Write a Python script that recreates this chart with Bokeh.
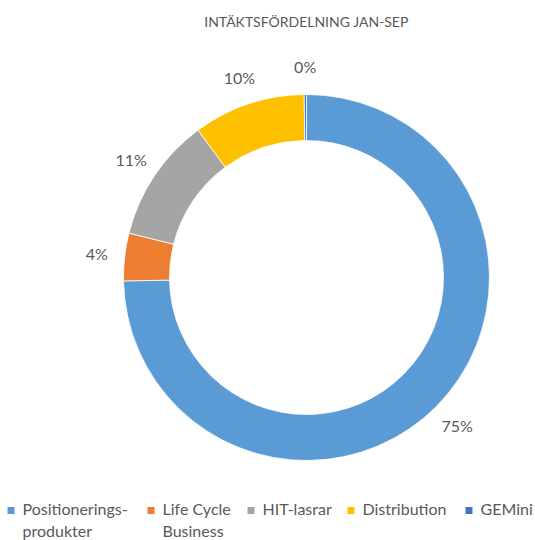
import math
from bokeh.plotting import figure
from bokeh.models import Range1d, ColumnDataSource
from bokeh.core.properties import value
from bokeh.embed import file_html
from bokeh.resources import INLINE

# ---- data ----
categories = ["Positionerings-\nprodukter", "Life Cycle\nBusiness", "HIT-lasrar", "Distribution", "GEMini"]
shares = [74.7, 4.2, 11.0, 9.9, 0.2]
colors = ["#5B9BD5", "#ED7D31", "#A5A5A5", "#FFC000", "#4472C4"]
title_text = "INTÄKTSFÖRDELNING JAN-SEP"

# ---- layout ----
W, H = 535, 540
CX, CY = 306, 263
R_OUT, R_IN = 183, 137
R_LABEL = 211
LEGEND_X = [7, 147, 247, 347, 465]
LEGEND_Y = 30
FONT = "Lato"
TXT = "#595959"

total = sum(shares)
starts, ends, mids = [], [], []
cum = 0.0
for s in shares:
    a0 = math.pi / 2 - 2 * math.pi * cum / total
    cum += s
    a1 = math.pi / 2 - 2 * math.pi * cum / total
    starts.append(a0)
    ends.append(a1)
    mids.append((a0 + a1) / 2)

src = ColumnDataSource(dict(start=starts, end=ends, color=colors))

p = figure(width=W, height=H, x_range=Range1d(0, W), y_range=Range1d(0, H),
           output_backend="svg", toolbar_location=None, min_border=0,
           outline_line_color=None, background_fill_color="white")
p.axis.visible = False
p.grid.visible = False

p.annular_wedge(x=CX, y=CY, inner_radius=R_IN, outer_radius=R_OUT,
                start_angle="start", end_angle="end", direction="clock",
                fill_color="color", line_color="white", line_width=0.8, source=src)

labels = [f"{round(s / total * 100):.0f}%" for s in shares]
lx = [CX + R_LABEL * math.cos(m) for m in mids]
ly = [CY + R_LABEL * math.sin(m) for m in mids]
p.text(x=lx, y=ly, text=labels, text_align="center", text_baseline="middle",
       text_font=value(FONT), text_font_size="16px", text_color=TXT)

p.text(x=[CX], y=[H - 21], text=[title_text], text_align="center", text_baseline="middle",
       text_font=value(FONT), text_font_size="14px", text_color=TXT)

# legend
p.rect(x=[x + 3.5 for x in LEGEND_X], y=[LEGEND_Y] * 5, width=7, height=7,
       fill_color=colors, line_color=None)
p.text(x=[x + 15 for x in LEGEND_X], y=[LEGEND_Y + 12] * 5, text=categories,
       text_align="left", text_baseline="top", text_line_height=1.2,
       text_font=value(FONT), text_font_size="16px", text_color=TXT)

open("out.html", "w").write(file_html(p, INLINE))
